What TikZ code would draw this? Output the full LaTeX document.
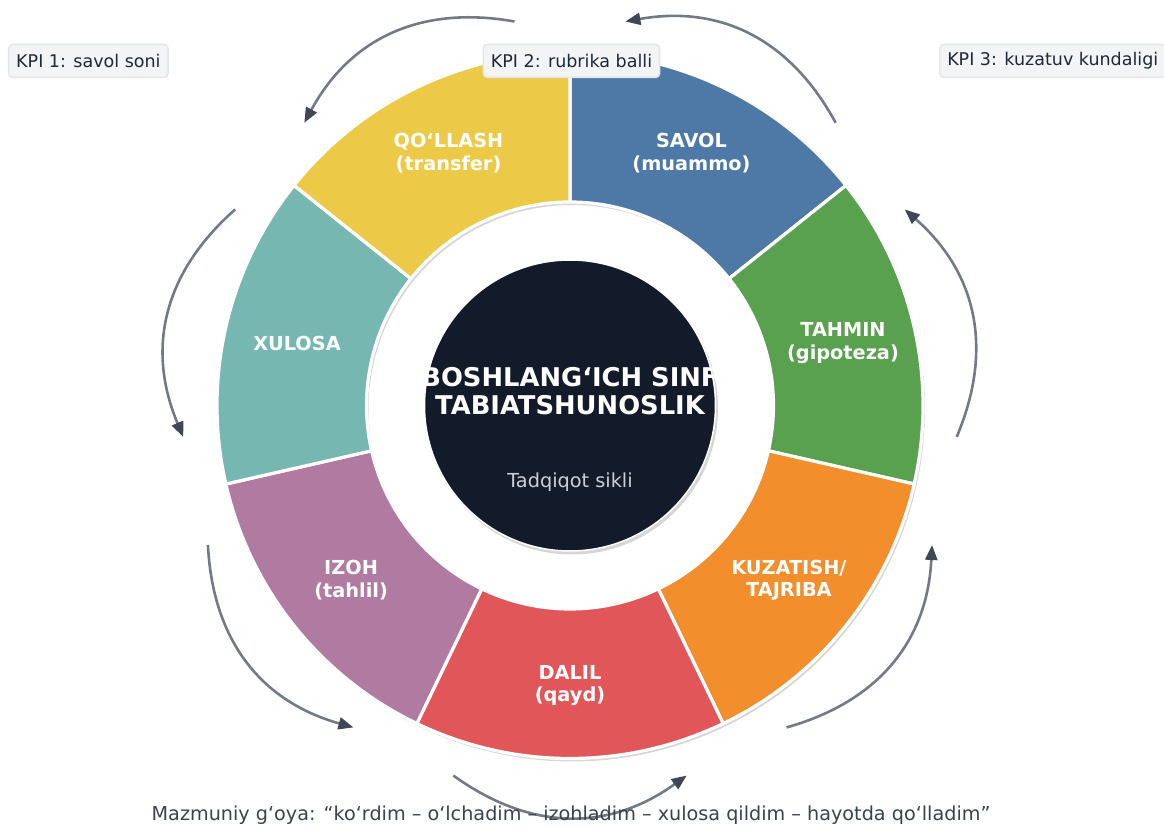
\documentclass[tikz,border=0pt]{standalone}
\usepackage{fontspec}
\setmainfont{DejaVu Sans}
\usetikzlibrary{arrows.meta,calc}
\definecolor{cSavol}{HTML}{4E79A7}
\definecolor{cTahmin}{HTML}{59A14F}
\definecolor{cKuz}{HTML}{F28E2B}
\definecolor{cDalil}{HTML}{E15759}
\definecolor{cIzoh}{HTML}{B07AA1}
\definecolor{cXul}{HTML}{76B7B2}
\definecolor{cQol}{HTML}{EDC948}
\definecolor{cCore}{HTML}{131A2A}
\definecolor{cArrow}{HTML}{737987}
\definecolor{cHead}{HTML}{3F4654}
\definecolor{cShadow}{HTML}{D6D6D6}
\definecolor{cKpiFill}{HTML}{F3F4F6}
\definecolor{cKpiLine}{HTML}{E3E5E8}
\definecolor{cText}{HTML}{1F2937}
\definecolor{cCap}{HTML}{3A4250}
\definecolor{cSub}{HTML}{CBD0D8}
\begin{document}
\begin{tikzpicture}[x=1pt,y=1pt,
  seg/.style={draw=white,line width=3.2pt,line join=round},
  seglabel/.style={text=white,font=\fontsize{19.3}{22.5}\selectfont\bfseries,align=center},
  kpi/.style={fill=cKpiFill,draw=cKpiLine,line width=1.5pt,rounded corners=4pt,text=cText,font=\fontsize{17.5}{20}\selectfont,inner xsep=7.5pt,minimum height=33pt},
  cyc/.style={draw=cArrow,line width=2.6pt,-{Triangle[length=15pt,width=12pt,color=cHead]}}]
\useasboundingbox (-570,-421.5) rectangle (594,405.5);
\def\Ro{353}
\def\Ri{203.5}
% shadows
\foreach \k in {0,...,6} {
  \pgfmathsetmacro{\s}{90-\k*360/7}
  \pgfmathsetmacro{\e}{90-(\k+1)*360/7}
  \fill[cShadow,shift={(2,-3)}] (\s:\Ro) arc[start angle=\s, end angle=\e, radius=\Ro] -- (\e:\Ri) arc[start angle=\e, end angle=\s, radius=\Ri] -- cycle;
}
% segments
\foreach \k/\c in {0/cSavol,1/cTahmin,2/cKuz,3/cDalil,4/cIzoh,5/cXul,6/cQol} {
  \pgfmathsetmacro{\s}{90-\k*360/7}
  \pgfmathsetmacro{\e}{90-(\k+1)*360/7}
  \filldraw[seg,fill=\c] (\s:\Ro) arc[start angle=\s, end angle=\e, radius=\Ro] -- (\e:\Ri) arc[start angle=\e, end angle=\s, radius=\Ri] -- cycle;
}
% core
\fill[cShadow] (2,-3) circle[radius=146];
\filldraw[fill=cCore,draw=white,line width=1.5pt] (0,0) circle[radius=145.5];
% labels
\node[seglabel] (lSavol) at (64.2857:280) {SAVOL\\(muammo)};
\node[seglabel] (lTahmin) at (12.8571:280) {TAHMIN\\(gipoteza)};
\node[seglabel] (lKuz) at (-38.5714:280) {KUZATISH/\\TAJRIBA};
\node[seglabel] (lDalil) at (-90:280) {DALIL\\(qayd)};
\node[seglabel] (lIzoh) at (-141.4286:280) {IZOH\\(tahlil)};
\node[seglabel] (lXul) at (167.1429:280) {XULOSA};
\node[seglabel] (lQol) at (115.7143:280) {QO‘LLASH\\(transfer)};
\node[text=white,font=\fontsize{25.8}{28.5}\selectfont\bfseries,align=center] (title) at (0,14.5) {BOSHLANG‘ICH SINF\\TABIATSHUNOSLIK};
\node[text=cSub,font=\fontsize{19.3}{22}\selectfont] (sub) at (0,-76.5) {Tadqiqot sikli};
% cycle arrows
\foreach \m [count=\i] in {64.2857,12.8571,-38.5714,-90,-141.4286,-192.8571,115.7143} {
  \coordinate (as\i) at (\m-17.5:388);
  \coordinate (ae\i) at (\m+17.5:388);
  \coordinate (ac\i) at (\m:454);
  \draw[cyc] (as\i) .. controls ($(as\i)!0.6667!(ac\i)$) and ($(ae\i)!0.6667!(ac\i)$) .. (ae\i);
}
% KPI boxes
\node[kpi,anchor=west] (kpi1) at (-562,344.5) {KPI 1: savol soni};
\node[kpi] (kpi2) at (1.5,344.5) {KPI 2: rubrika balli};
\node[kpi,anchor=west] (kpi3) at (369,344.5) {KPI 3: kuzatuv kundaligi};
% caption
\node[text=cCap,font=\fontsize{19.2}{22}\selectfont] (cap) at (1,-409.5) {Mazmuniy g‘oya: “ko‘rdim – o‘lchadim – izohladim – xulosa qildim – hayotda qo‘lladim”};
\end{tikzpicture}
\end{document}
